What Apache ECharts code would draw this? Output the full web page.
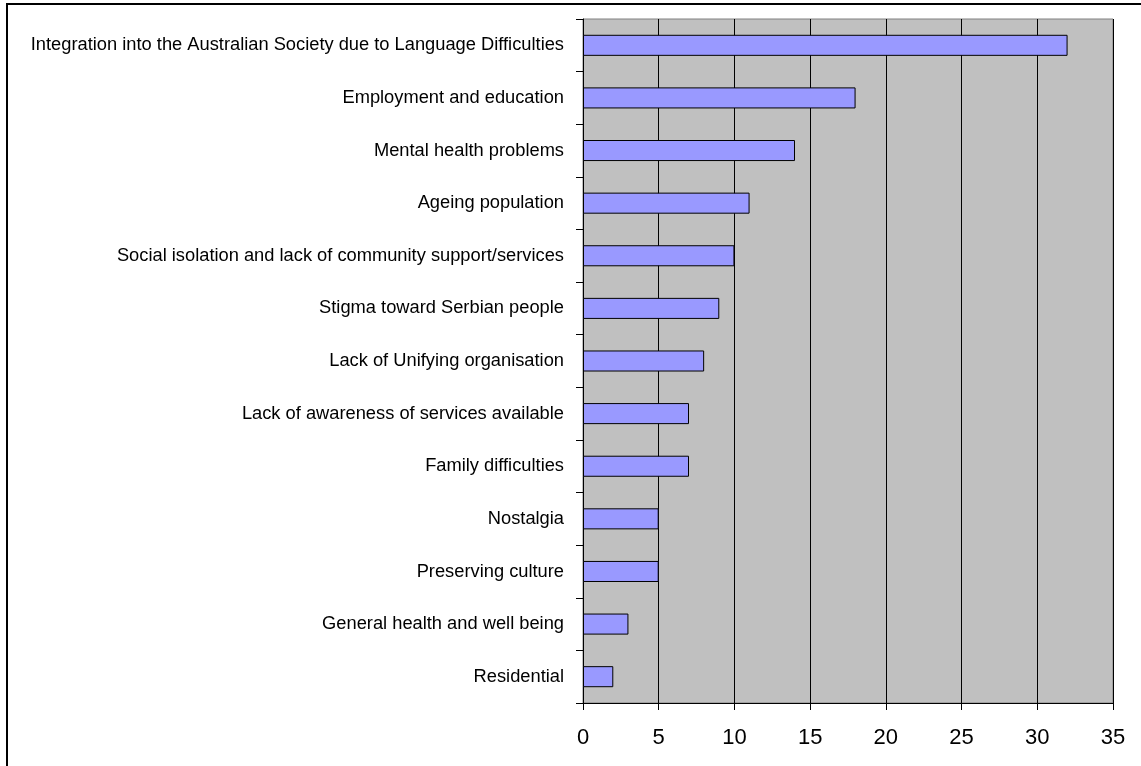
<!DOCTYPE html>
<html>
<head>
<meta charset="utf-8">
<script src="https://cdn.jsdelivr.net/npm/echarts@6/dist/echarts.min.js"></script>
<style>
html,body{margin:0;padding:0;background:#fff;}
#c{width:1141px;height:766px;}
</style>
</head>
<body>
<div id="c"></div>
<script>
var categories = [
  "Integration into the Australian Society due to Language Difficulties",
  "Employment and education",
  "Mental health problems",
  "Ageing population",
  "Social isolation and lack of community support/services",
  "Stigma toward Serbian people",
  "Lack of Unifying organisation",
  "Lack of awareness of services available",
  "Family difficulties",
  "Nostalgia",
  "Preserving culture",
  "General health and well being",
  "Residential"
];
var values = [32, 18, 14, 11, 10, 9, 8, 7, 7, 5, 5, 3, 2];
var xTicks = [0, 5, 10, 15, 20, 25, 30, 35];

var chart = echarts.init(document.getElementById('c'), null, {renderer: 'canvas'});
chart.setOption({
  animation: false,
  backgroundColor: '#ffffff',
  textStyle: {fontFamily: 'Liberation Sans, Arial, sans-serif'},
  graphic: [{
    type: 'polyline',
    shape: {points: [[7, 800], [7, 4], [1200, 4]]},
    style: {stroke: '#000', lineWidth: 2, fill: null},
    silent: true
  }],
  grid: {
    left: 583, top: 19, right: 28, bottom: 63,
    show: true, backgroundColor: '#C0C0C0', borderColor: '#808080', borderWidth: 1,
    containLabel: false
  },
  xAxis: {
    type: 'value', min: xTicks[0], max: xTicks[xTicks.length - 1], interval: 5,
    axisLine: {show: true, lineStyle: {color: '#000', width: 1}},
    axisTick: {show: true, length: 7, lineStyle: {color: '#000'}},
    axisLabel: {color: '#000', fontSize: 22, margin: 24, fontFamily: 'Liberation Sans, Arial, sans-serif'},
    splitLine: {show: true, lineStyle: {color: '#000', width: 1}}
  },
  yAxis: {
    type: 'category', data: categories, inverse: true,
    axisLine: {show: true, onZero: false, lineStyle: {color: '#000', width: 1}},
    axisTick: {show: true, length: 7, alignWithLabel: false, lineStyle: {color: '#000'}},
    axisLabel: {color: '#000', fontSize: 18.3, margin: 19, fontFamily: 'Liberation Sans, Arial, sans-serif'},
    splitLine: {show: false}
  },
  series: [{
    type: 'bar', data: values, barWidth: '40%',
    itemStyle: {color: '#9999FF', borderColor: '#000', borderWidth: 1}
  }]
});
</script>
</body>
</html>
